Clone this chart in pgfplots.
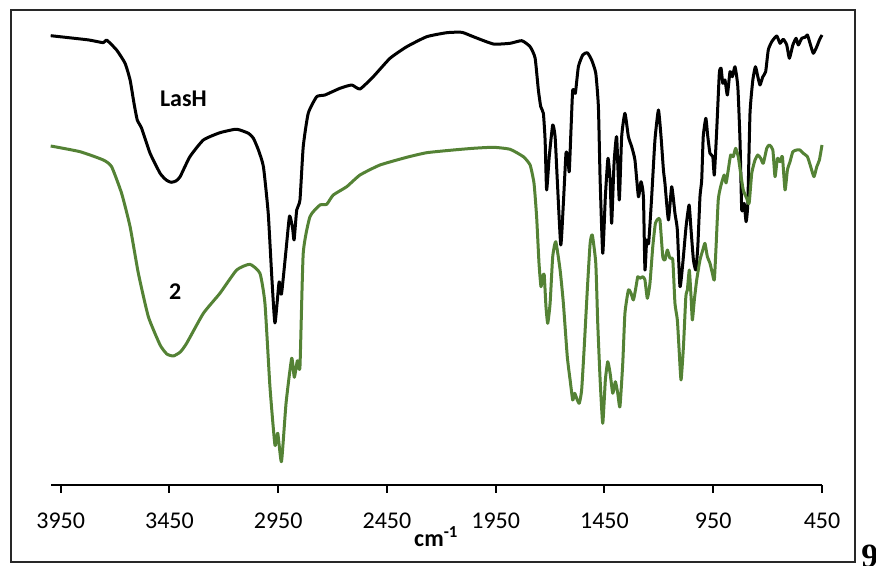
\documentclass[border=0pt]{standalone}
\usepackage{pgfplots}
\pgfplotsset{compat=1.18}
\usepackage{fontspec}
\setmainfont{Carlito}
\newfontfamily\serifb{Liberation Serif}
\definecolor{ftgreen}{RGB}{84,130,53}
\definecolor{framegray}{RGB}{40,40,40}
\begin{document}
\begin{tikzpicture}
\path[use as bounding box] (0,0) rectangle (438bp,283bp);
\draw[framegray, line width=0.9bp] (5.35bp,2.15bp) rectangle (427.65bp,278bp);
\node[anchor=north west, inner sep=0pt, font=\serifb\bfseries\fontsize{17bp}{20bp}\selectfont] at (430.5bp,10.5bp) {9};
\begin{axis}[
  at={(25.35bp,40.5bp)}, anchor=south west, scale only axis,
  width=385.65bp, height=237.5bp,
  x dir=reverse, xmin=450, xmax=3996, ymin=0, ymax=475,
  axis x line=bottom, axis y line=none,
  axis line style={line width=1bp, black, -},
  xtick={450,950,...,3950},
  tick style={line width=1bp, black},
  major tick length=3.75bp, tick align=outside,
  xticklabel style={font=\fontsize{12bp}{14bp}\selectfont, inner sep=0pt, anchor=north, yshift=-10bp, /pgf/number format/1000 sep={}},
  /pgf/number format/assume math mode=true,
  xlabel={\textbf{cm\textsuperscript{-1}}},
  xlabel style={at={(axis description cs:0.5,0)}, anchor=base, yshift=-30.5bp, font=\fontsize{12bp}{14bp}\selectfont},
  clip=false,
]
\addplot[black, line width=1.5bp, line join=round, smooth, tension=0.3] coordinates {
(3996,449.3) (3900,447) (3820,445) (3754,442.3) (3739,445) (3693,435) (3654,421.7) (3631,405) (3613,381.7) (3598,365) (3578,356.7) (3539,331.7) (3493,311.7) (3465,305) (3443,302.7) (3420,304) (3401,308.3) (3356,328.3) (3294,345) (3218,352.3) (3149,355.7) (3126,355) (3087,351.7) (3064,346.7) (3041,335) (3018,318.3) (2996,272) (2980,210) (2965,162) (2946,203) (2935,191) (2914,235) (2898,269) (2884,257) (2877,245) (2865,275) (2850,285) (2835,338.3) (2812,371.7) (2773,388.3) (2735,390) (2666,396.7) (2612,400) (2574,396) (2513,408.3) (2436,426.7) (2359,438.3) (2267,448.3) (2175,452.3) (2106,452.7) (2053,448.3) (1961,441) (1884,441.7) (1830,444.3) (1792,438.3) (1769,427) (1754,395) (1743,378.3) (1731,371.7) (1723,345) (1716,295) (1704,328.3) (1688,360) (1677,348.3) (1667,305) (1651,240) (1639,281.7) (1627,331.7) (1619,328.3) (1612,313.3) (1604,355) (1596,395) (1584,391.7) (1570,418.3) (1550,430) (1529,432.3) (1509,425) (1490,411.7) (1478,378.3) (1470,305) (1458,231.7) (1446,288.3) (1434,326.7) (1424,305) (1417,261.7) (1406,321.7) (1394,348.3) (1382,285) (1371,348.3) (1356,371.7) (1340,348.3) (1325,338.3) (1310,325) (1294,288.3) (1282,303.3) (1271,288.3) (1264,215) (1256,245) (1247,241.7) (1233,288.3) (1218,345) (1202,375) (1190,348.3) (1179,315) (1172,301.7) (1156,265) (1141,298.3) (1126,271.7) (1115,255) (1103,198.3) (1090,221.7) (1075,258.3) (1061,280) (1052,255) (1041,225) (1030,215) (1021,238.3) (1011,288.3) (1003,305) (996,348.3) (984,366.7) (975,348.3) (965,331.7) (952,328.3) (945,310) (934,355) (922,411.7) (914,416.7) (906,401.7) (896,405) (885,390) (873,413.3) (862,408.3) (850,418.3) (837,398.3) (827,345) (819,275) (808,281.7) (799,263.3) (791,281.7) (781,371.7) (768,405) (756,418.3) (745,408.3) (735,400) (722,408.3) (709,413.3) (697,435) (681,443.3) (658,449) (643,441.7) (628,445.7) (612,440) (600,426.7) (584,440) (569,446.7) (559,440) (543,446.7) (528,447.7) (517,450) (505,441.7) (490,431.7) (474,438.3) (462,445) (450,450)
};
\addplot[ftgreen, line width=1.5bp, line join=round, smooth, tension=0.3] coordinates {
(3996,339) (3861,333.3) (3754,325) (3716,318.3) (3670,291.7) (3631,258.3) (3593,211.7) (3547,168.3) (3493,140) (3462,131) (3432,129) (3400,133) (3371,141.7) (3294,171.7) (3218,191.7) (3141,215) (3080,220.7) (3034,211.7) (3011,181.7) (2988,98.3) (2965,40) (2952,51.7) (2935,23.3) (2914,81.7) (2888,126.7) (2876,107.7) (2862,124.3) (2850,118.3) (2835,231.7) (2804,268.3) (2758,280) (2727,280.7) (2697,290) (2635,298.3) (2574,310) (2482,320) (2359,327.7) (2267,332.3) (2145,335) (2053,336.7) (1961,337.7) (1884,335.7) (1823,328.3) (1792,320) (1774,301.7) (1762,268.3) (1751,221.7) (1742,198.3) (1734,208.3) (1727,210) (1719,178.3) (1711,161.7) (1700,181.7) (1688,228.3) (1674,243.3) (1654,215) (1639,181.7) (1621,128.3) (1608,105) (1596,85) (1587,91.7) (1578,86.7) (1566,81.7) (1555,95) (1543,138.3) (1529,195) (1516,241.7) (1506,250) (1490,221.7) (1481,161.7) (1470,105) (1458,61.7) (1446,105) (1435,123.3) (1424,111.7) (1412,91.7) (1400,103.3) (1389,91.7) (1379,78.3) (1366,121.7) (1356,171.7) (1340,195) (1328,191.7) (1317,185) (1305,198.3) (1297,208.3) (1287,206.7) (1274,208.3) (1264,205) (1253,186.7) (1241,201.7) (1228,238.3) (1216,261.7) (1205,265.7) (1195,265) (1182,228.3) (1172,225) (1161,235) (1149,226.7) (1136,225) (1126,181.7) (1115,165) (1106,131.7) (1098,105) (1087,138.3) (1076,188.3) (1069,195) (1060,215) (1052,188.3) (1046,165) (1037,185) (1026,205) (1011,225) (998,235) (988,241.7) (977,228.3) (965,221.7) (954,211.7) (945,205) (937,238.3) (927,285) (916,298.3) (900,310) (891,302) (881,315) (870,330) (858,328.3) (847,336.7) (835,328.3) (824,311.7) (812,295) (796,286.7) (785,281.7) (773,311.7) (758,325) (745,330) (732,326.7) (720,321.7) (704,336.7) (692,340) (676,335) (666,308.3) (655,326.7) (643,323.3) (632,328.3) (620,295) (609,315) (597,323.3) (584,333.3) (566,335) (551,335) (536,331.7) (517,328.3) (502,318.3) (487,308.3) (474,318.3) (462,325) (450,340)
};
\node[font=\bfseries\fontsize{12bp}{14bp}\selectfont, anchor=center, inner sep=0pt] at (axis cs:3386,386) {LasH};
\node[font=\bfseries\fontsize{12bp}{14bp}\selectfont, anchor=center, inner sep=0pt] at (axis cs:3424,193.3) {2};
\end{axis}
\end{tikzpicture}
\end{document}
